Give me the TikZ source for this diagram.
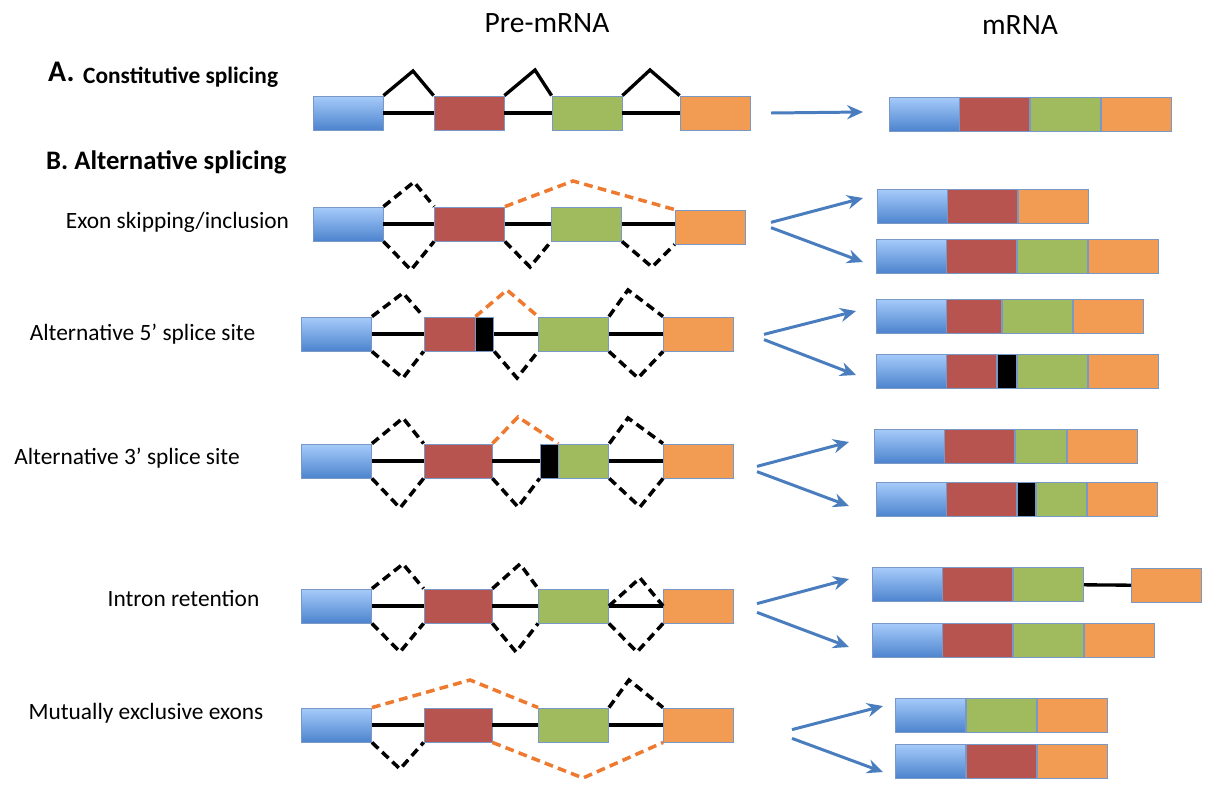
\documentclass[tikz,border=0pt]{standalone}
\usepackage{fontspec}
\setmainfont{Carlito}
\usepackage{tikz}
\usetikzlibrary{positioning,arrows.meta}
\definecolor{exblueT}{HTML}{A6CBFA}
\definecolor{exblueB}{HTML}{4D84CE}
\definecolor{exred}{HTML}{B8544F}
\definecolor{exgreen}{HTML}{9FBB5E}
\definecolor{exorange}{HTML}{F19C52}
\definecolor{exedge}{HTML}{7A98C6}
\definecolor{arrblue}{HTML}{4A7DBD}
\definecolor{altorange}{HTML}{EE7A30}

\begin{document}
\begin{tikzpicture}[x=0.02cm, y=-0.02cm,
    exon/.style={draw=exedge, line width=0.5pt, minimum width=1.4cm, minimum height=0.68cm, inner sep=0pt},
    exA/.style={exon, top color=exblueT, bottom color=exblueB},
    exB/.style={exon, fill=exred},
    exC/.style={exon, fill=exgreen},
    exD/.style={exon, fill=exorange},
    exK/.style={exon, fill=black, minimum width=0.36cm},
    intron/.style={line width=1.9pt},
    splice/.style={line width=2pt, dash pattern=on 5pt off 3pt},
    alt/.style={splice, altorange},
    arr/.style={arrblue, line width=1.7pt, -{Stealth[length=9pt, width=8pt]}},
    lab/.style={font=\fontsize{13.3}{16}\selectfont, anchor=base},
    head/.style={font=\fontsize{16.8}{20}\selectfont, anchor=base},
    sec/.style={font=\bfseries\fontsize{15.2}{18}\selectfont, anchor=base west}]
    \useasboundingbox (0,0) rectangle (1209,791);
    \node[head] (pre) at (547,32) {Pre-mRNA};
    \node[head] (mat) at (1020,34) {mRNA};
    \node[sec, font=\bfseries\fontsize{17}{18}\selectfont] (secA) at (42,81) {A.};
    \node[sec, font=\bfseries\fontsize{13.3}{16}\selectfont] (constit) at (77,83) {Constitutive splicing};
    \node[sec] (secB) at (40,169) {B. Alternative splicing};
    \node[lab] (skip) at (177.5,228) {Exon skipping/inclusion};
    \node[lab] (alt5) at (142.5,340) {Alternative 5’ splice site};
    \node[lab] (alt3) at (127,464) {Alternative 3’ splice site};
    \node[lab] (retain) at (183.5,606) {Intron retention};
    \node[lab] (mutex) at (146,719) {Mutually exclusive exons};

    \node[exA] (a1) at (348,113) {};
    \node[exB] (a2) at (469,113) {};
    \node[exC] (a3) at (587,113) {};
    \node[exD] (a4) at (715,113) {};
    \draw[intron] (a1) -- (a2) -- (a3) -- (a4);
    \draw[intron] (a1.north east) -- (413,71) -- (a2.north west) (a2.north east) -- (535,70) -- (a3.north west) (a3.north east) -- (650,70) -- (a4.north west);

    \node[exA] (b1) at (348,224) {};
    \node[exB] (b2) at (469.5,224) {};
    \node[exC] (b3) at (586.5,224) {};
    \node[exD] (b4) at (710,227) {};
    \draw[intron] (b1) -- (b2) -- (b3) (b3.east) -- (b3.east -| b4.west);
    \draw[splice] (b1.north east) -- (414,182) -- (b2.north west) (b1.south east) -- (411,270) -- (b2.south west) (b2.south east) -- (530,267) -- (b3.south west) (b3.south east) -- (652,267) -- (b4.south west);
    \draw[alt] (b2.north east) -- (573,181) -- (b4.north west);

    \node[exA] (c1) at (336.5,334) {};
    \node[exB, minimum width=1.02cm] (c2) at (449.5,334) {};
    \node[exK, right=0pt of c2] (c3) {};
    \node[exC] (c4) at (573.5,334) {};
    \node[exD] (c5) at (698.5,334) {};
    \draw[intron] (c1) -- (c2) (c3) -- (c4) -- (c5);
    \draw[splice] (c1.north east) -- (403,293) -- (c2.north west) (c1.south east) -- (403,378) -- (c2.south west) (c3.south east) -- (517,378) -- (c4.south west) (c4.north east) -- (628,290) -- (c5.north west) (c4.south east) -- (638,378) -- (c5.south west);
    \draw[alt] (c2.north east) -- (507,290) -- (c4.north west);

    \node[exA] (d1) at (336.5,461) {};
    \node[exB, minimum width=1.36cm] (d2) at (458,461) {};
    \node[exK] (d3) at (549,461) {};
    \node[exC, minimum width=1.0cm, right=0pt of d3] (d4) {};
    \node[exD] (d5) at (698.5,461) {};
    \draw[intron] (d1) -- (d2) -- (d3) (d4) -- (d5);
    \draw[splice] (d1.north east) -- (403,418) -- (d2.north west) (d1.south east) -- (400,508) -- (d2.south west) (d2.south east) -- (518,507) -- (d3.south west) (d4.north east) -- (628,418) -- (d5.north west) (d4.south east) -- (640,507) -- (d5.south west);
    \draw[alt] (d2.north east) -- (518,417) -- (d3.north east);

    \node[exA] (e1) at (336.5,606) {};
    \node[exB, minimum width=1.36cm] (e2) at (458,606) {};
    \node[exC] (e3) at (573.5,606) {};
    \node[exD] (e4) at (698.5,606) {};
    \draw[intron] (e1) -- (e2) -- (e3) -- (e4);
    \draw[splice] (e1.north east) -- (403,564) -- (e2.north west) (e1.south east) -- (400,652) -- (e2.south west) (e2.north east) -- (520,564) -- (e3.north west) (e2.south east) -- (516,652) -- (e3.south west) (e3.east) -- (640,578) -- (e4.west) (e3.south east) -- (637,652) -- (e4.south west);

    \node[exA] (f1) at (336.5,725) {};
    \node[exB, minimum width=1.36cm] (f2) at (458,725) {};
    \node[exC] (f3) at (573.5,725) {};
    \node[exD] (f4) at (698.5,725) {};
    \draw[intron] (f1) -- (f2) -- (f3) -- (f4);
    \draw[splice] (f1.south east) -- (400,769) -- (f2.south west) (f3.north east) -- (629,680) -- (f4.north west);
    \draw[alt] (f1.north east) -- (470,680) -- (f3.north west) (f2.south east) -- (583,778) -- (f4.south west);

    \node[exA] (am1) at (924,114) {};
    \node[exB, right=0pt of am1] (am2) {};
    \node[exC, right=0pt of am2] (am3) {};
    \node[exD, right=0pt of am3] (am4) {};

    \node[exA] (bm1) at (912,206.5) {};
    \node[exB, right=0pt of bm1] (bm2) {};
    \node[exD, right=0pt of bm2] (bm3) {};
    \node[exA] (bn1) at (911,256) {};
    \node[exB, right=0pt of bn1] (bn2) {};
    \node[exC, right=0pt of bn2] (bn3) {};
    \node[exD, right=0pt of bn3] (bn4) {};

    \node[exA] (cm1) at (911,316) {};
    \node[exB, minimum width=1.1cm, right=0pt of cm1] (cm2) {};
    \node[exC, right=0pt of cm2] (cm3) {};
    \node[exD, right=0pt of cm3] (cm4) {};
    \node[exA] (cn1) at (911,371) {};
    \node[exB, minimum width=1.0cm, right=0pt of cn1] (cn2) {};
    \node[exK, minimum width=0.38cm, right=0pt of cn2] (cn3) {};
    \node[exC, right=0pt of cn3] (cn4) {};
    \node[exD, right=0pt of cn4] (cn5) {};

    \node[exA] (dm1) at (909,446) {};
    \node[exB, right=0pt of dm1] (dm2) {};
    \node[exC, minimum width=1.02cm, right=0pt of dm2] (dm3) {};
    \node[exD, right=0pt of dm3] (dm4) {};
    \node[exA] (dn1) at (911,499.5) {};
    \node[exB, right=0pt of dn1] (dn2) {};
    \node[exK, right=0pt of dn2] (dn3) {};
    \node[exC, minimum width=1.0cm, right=0pt of dn3] (dn4) {};
    \node[exD, right=0pt of dn4] (dn5) {};

    \node[exA] (em1) at (907,584.5) {};
    \node[exB, right=0pt of em1] (em2) {};
    \node[exC, right=0pt of em2] (em3) {};
    \node[exD] (em4) at (1166.5,585.5) {};
    \draw[intron] (em3) -- (em4);
    \node[exA] (en1) at (907,640.5) {};
    \node[exB, right=0pt of en1] (en2) {};
    \node[exC, right=0pt of en2] (en3) {};
    \node[exD, right=0pt of en3] (en4) {};

    \node[exA] (fm1) at (930.5,715) {};
    \node[exC, right=0pt of fm1] (fm2) {};
    \node[exD, right=0pt of fm2] (fm3) {};
    \node[exA] (fn1) at (930.5,761) {};
    \node[exB, right=0pt of fn1] (fn2) {};
    \node[exD, right=0pt of fn2] (fn3) {};

    \coordinate (sA) at (771,113);
    \coordinate (sB) at (771,225);
    \coordinate (sC) at (764,337);
    \coordinate (sD) at (757,469);
    \coordinate (sE) at (757,608);
    \coordinate (sF) at (792,734);
    \draw[arr] (sA) -- (863,112);
    \draw[arr] ([yshift=1.5pt]sB) -- (863,198);
    \draw[arr] ([yshift=-1.5pt]sB) -- (863,262);
    \draw[arr] ([yshift=1.5pt]sC) -- (856,311);
    \draw[arr] ([yshift=-1.5pt]sC) -- (856,375);
    \draw[arr] ([yshift=1.5pt]sD) -- (849,442);
    \draw[arr] ([yshift=-1.5pt]sD) -- (849,506);
    \draw[arr] ([yshift=2.5pt]sE) -- (849,579);
    \draw[arr] ([yshift=-2.5pt]sE) -- (849,647);
    \draw[arr] ([yshift=2.5pt]sF) -- (883,706);
    \draw[arr] ([yshift=-2.5pt]sF) -- (883,772);
\end{tikzpicture}
\end{document}
